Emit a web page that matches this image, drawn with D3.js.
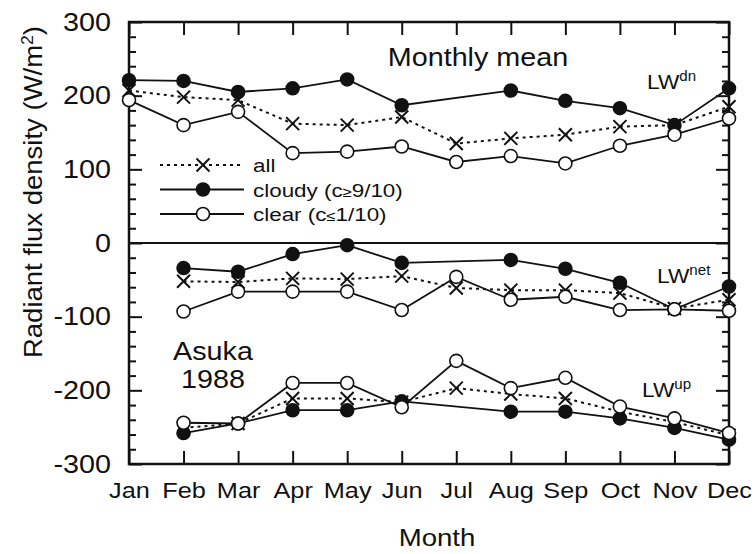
<!DOCTYPE html>
<html>
<head>
<meta charset="utf-8">
<script src="https://cdn.jsdelivr.net/npm/d3@7"></script>
<style>
  body { margin: 0; background: #fff; }
  text { font-family: "Liberation Sans", Arial, sans-serif; fill: #111; }
</style>
</head>
<body>
<div id="chart"></div>
<script>
var months = ['Jan', 'Feb', 'Mar', 'Apr', 'May', 'Jun', 'Jul', 'Aug', 'Sep', 'Oct', 'Nov', 'Dec'];

// LW down
var dnAll    = [207, 198, 194, 162, 160, 171, 135, 142, 147, 158, 160, 185];
var dnCloudy = [221, 220, 205, 210, 222, 187, null, 207, 193, 183, 160, 210];
var dnClear  = [194, 160, 178, 122, 124, 131, 110, 118, 108, 132, 147, 169];

// LW net
var netAll    = [null, -52, -53, -48, -49, -45, -61, -64, -64, -68, -89, -77];
var netCloudy = [null, -34, -39, -15, -3, -27, null, -23, -35, -54, -90, -59];
var netClear  = [null, -93, -66, -66, -66, -91, -46, -77, -73, -91, -90, -92];

// LW up
var upAll    = [null, -251, -245, -211, -211, -216, -197, -205, -211, -229, -243, -261];
var upCloudy = [null, -258, -245, -227, -227, -215, null, -229, -229, -238, -251, -267];
var upClear  = [null, -244, -245, -190, -190, -223, -160, -197, -183, -222, -238, -258];

var yMajor = [-300, -200, -100, 0, 100, 200, 300];

var margin = { top: 22, right: 25, bottom: 90, left: 129 };
var width = 754 - margin.left - margin.right;
var height = 554 - margin.top - margin.bottom;

// the original lettering is a bit wider than Liberation Sans
var sx = 1.15;

function stretch(sel, k) {
    sel.each(function() {
        var t = d3.select(this);
        var tx = +t.attr('x') || 0, ty = +t.attr('y') || 0;
        t.attr('x', null).attr('y', null)
            .attr('transform', `translate(${tx}, ${ty}) scale(${k || sx}, 1)`);
    });
}

var svg = d3.select('#chart').append('svg')
    .attr('width', 754)
    .attr('height', 554);

var g = svg.append('g')
    .attr('transform', `translate(${margin.left}, ${margin.top})`);

var x = d3.scalePoint().domain(months).range([0, width]);
var y = d3.scaleLinear().domain([-300, 300]).range([height, 0]);

var minorVals = d3.range(-300, 301, 20).filter(function(v) { return v % 100 !== 0; });

function styleAxis(sel) {
    sel.select('.domain').remove();
    sel.selectAll('line').attr('stroke', '#111').attr('stroke-width', 2);
}

// left axis, ticks inward
g.append('g')
    .call(d3.axisLeft(y).tickValues(yMajor).tickSize(-13).tickPadding(18)
        .tickFormat(function(d) { return String(d); }))
    .call(styleAxis)
    .selectAll('text').style('font-size', '25px').call(stretch);
g.append('g')
    .call(d3.axisLeft(y).tickValues(minorVals).tickSize(-7).tickFormat(''))
    .call(styleAxis);

// right axis, ticks inward
g.append('g')
    .attr('transform', `translate(${width}, 0)`)
    .call(d3.axisRight(y).tickValues(yMajor).tickSize(-13).tickFormat(''))
    .call(styleAxis);
g.append('g')
    .attr('transform', `translate(${width}, 0)`)
    .call(d3.axisRight(y).tickValues(minorVals).tickSize(-7).tickFormat(''))
    .call(styleAxis);

// bottom and top month ticks
g.append('g')
    .attr('transform', `translate(0, ${height})`)
    .call(d3.axisBottom(x).tickSize(-13).tickPadding(18))
    .call(styleAxis)
    .selectAll('text').style('font-size', '22px').call(stretch);
g.append('g')
    .call(d3.axisTop(x).tickSize(-13).tickFormat(''))
    .call(styleAxis);

// frame and zero line
g.append('rect')
    .attr('width', width).attr('height', height)
    .attr('fill', 'none').attr('stroke', '#111').attr('stroke-width', 2.5);
g.append('line')
    .attr('x1', 0).attr('x2', width)
    .attr('y1', y(0)).attr('y2', y(0))
    .attr('stroke', '#111').attr('stroke-width', 2);

var line = d3.line()
    .x(function(d) { return x(d.m); })
    .y(function(d) { return y(d.v); });

function toPts(arr) {
    return arr.map(function(v, i) { return { m: months[i], v: v }; })
        .filter(function(d) { return d.v !== null; });
}

var r = 6.5;

function drawMarker(sel, type) {
    if (type === 'all') {
        sel.append('path')
            .attr('d', `M${-r},${-r}L${r},${r}M${-r},${r}L${r},${-r}`)
            .attr('stroke', '#111').attr('stroke-width', 2).attr('fill', 'none');
    } else {
        sel.append('circle')
            .attr('r', r)
            .attr('fill', type === 'cloudy' ? '#111' : '#fff')
            .attr('stroke', '#111').attr('stroke-width', 1.6);
    }
}

function drawSeries(arr, type) {
    g.append('path')
        .datum(toPts(arr))
        .attr('d', line)
        .attr('fill', 'none')
        .attr('stroke', '#111')
        .attr('stroke-width', type === 'all' ? 2 : 1.8)
        .attr('stroke-dasharray', type === 'all' ? '3,4' : null);
}

var groups = [
    { all: dnAll, cloudy: dnCloudy, clear: dnClear },
    { all: netAll, cloudy: netCloudy, clear: netClear },
    { all: upAll, cloudy: upCloudy, clear: upClear }
];

groups.forEach(function(grp) {
    ['clear', 'all', 'cloudy'].forEach(function(t) { drawSeries(grp[t], t); });
});
groups.forEach(function(grp) {
    ['cloudy', 'all', 'clear'].forEach(function(t) {
        g.append('g').selectAll('g')
            .data(toPts(grp[t]))
            .enter()
            .append('g')
            .attr('transform', function(d) { return `translate(${x(d.m)}, ${y(d.v)})`; })
            .each(function() { drawMarker(d3.select(this), t); });
    });
});

// legend
var legendItems = [
    { type: 'all', label: 'all' },
    { type: 'cloudy', label: 'cloudy (c', rel: '≥', rest: '9/10)' },
    { type: 'clear', label: 'clear (c', rel: '≤', rest: '1/10)' }
];
var legend = g.append('g').attr('transform', 'translate(31, 143)');
legendItems.forEach(function(d, i) {
    var row = legend.append('g').attr('transform', `translate(0, ${i * 24.5})`);
    row.append('line')
        .attr('x1', 0).attr('x2', 84).attr('y1', 0).attr('y2', 0)
        .attr('stroke', '#111')
        .attr('stroke-width', d.type === 'all' ? 2 : 1.8)
        .attr('stroke-dasharray', d.type === 'all' ? '3,4' : null);
    var m = row.append('g').attr('transform', 'translate(43, 0)');
    drawMarker(m, d.type);
    var t = row.append('text')
        .attr('x', 93).attr('y', 7)
        .style('font-size', '19px');
    t.append('tspan').text(d.label);
    if (d.rel) {
        t.append('tspan').style('font-size', '14px').text(d.rel);
        t.append('tspan').text(d.rest);
    }
    t.call(stretch, 1.18);
});

// annotations
g.append('text')
    .attr('x', 349).attr('y', 44)
    .attr('text-anchor', 'middle')
    .style('font-size', '25px')
    .text('Monthly mean')
    .call(stretch);

var lwLabels = [
    { sup: 'dn', x: 518, y: 67 },
    { sup: 'net', x: 528, y: 261 },
    { sup: 'up', x: 513, y: 375 }
];
lwLabels.forEach(function(d) {
    var t = g.append('text')
        .attr('x', d.x).attr('y', d.y)
        .style('font-size', '21px');
    t.append('tspan').text('LW');
    t.append('tspan').attr('dy', -8).style('font-size', '14px').text(d.sup);
    t.call(stretch, 1.08);
});

g.append('text')
    .attr('x', 84).attr('y', 338)
    .attr('text-anchor', 'middle')
    .style('font-size', '25px')
    .text('Asuka')
    .call(stretch);
g.append('text')
    .attr('x', 84).attr('y', 366)
    .attr('text-anchor', 'middle')
    .style('font-size', '25px')
    .text('1988')
    .call(stretch);

// axis titles
svg.append('text')
    .attr('x', 437)
    .attr('y', 546)
    .attr('text-anchor', 'middle')
    .style('font-size', '24px')
    .text('Month')
    .call(stretch);

var yt = svg.append('text')
    .attr('transform', 'translate(42, 192) rotate(-90) scale(1.1, 1)')
    .attr('text-anchor', 'middle')
    .style('font-size', '25px');
yt.append('tspan').text('Radiant flux density (W/m');
yt.append('tspan').attr('dy', -9).style('font-size', '16px').text('2');
yt.append('tspan').attr('dy', 9).text(')');
</script>
</body>
</html>
